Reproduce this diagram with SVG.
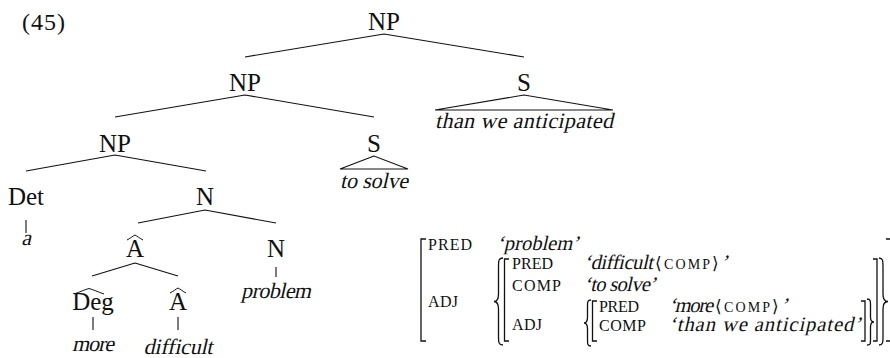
<svg xmlns="http://www.w3.org/2000/svg" width="890" height="358" viewBox="0 0 890 358">
  <style>
    .lbl { font-family: "Liberation Serif", serif; font-size: 25px; text-anchor: middle; fill: #111; }
    /* slanted serif for the words; the slant is applied with skewX */
    .leaf { font-family: "Liberation Serif", serif; font-size: 22px; text-anchor: middle; fill: #111; }
    .edge { stroke: #111; stroke-width: 1.1; fill: none; }
    .hat { stroke: #111; stroke-width: 1; fill: none; }
    .feat { font-family: "Liberation Serif", serif; font-size: 16px; fill: #111; }
    .val { font-family: "Liberation Serif", serif; font-size: 20.5px; fill: #111; }
    .sc { font-family: "Liberation Serif", serif; font-size: 14px; fill: #111; }
    .ang { font-family: "DejaVu Serif", serif; font-size: 17px; fill: #111; }
    .brk { stroke: #111; stroke-width: 1.3; fill: none; }
  </style>

  <!-- example number -->
  <text x="22" y="30" font-family="Liberation Serif, serif" font-size="24" fill="#111" textLength="43">(45)</text>

  <!-- tree connectors -->
  <g id="connectors" class="edge">
    <path d="M384,34 L245,57 M384,34 L524,57"/>
    <path d="M245,95 L115,117 M245,95 L374,117"/>
    <path d="M524,95 L435,110 L613,110 Z"/>
    <path d="M115,155 L26,171 M115,155 L206,171"/>
    <path d="M374,156 L340,169 L408,169 Z"/>
    <path d="M26,220 V233"/>
    <path d="M205,210 L138,223 M205,210 L276,223"/>
    <path d="M135,263 L92,276 M135,263 L178,276"/>
    <path d="M276,267 V277"/>
    <path d="M93,317 V330"/>
    <path d="M178,317 V330"/>
  </g>

  <!-- tree nodes -->
  <g id="np-root"><text class="lbl" x="384" y="30">NP</text></g>
  <g id="np-mid"><text class="lbl" x="245" y="91">NP</text></g>
  <g id="s-than"><text class="lbl" x="524" y="91">S</text>
    <text class="leaf" transform="translate(524,128) skewX(-13)" textLength="178">than we anticipated</text></g>
  <g id="np-low"><text class="lbl" x="115" y="152">NP</text></g>
  <g id="s-solve"><text class="lbl" x="374" y="152">S</text>
    <text class="leaf" transform="translate(374,188) skewX(-13)" textLength="68">to solve</text></g>
  <g id="det"><text class="lbl" x="26" y="205">Det</text>
    <text class="leaf" transform="translate(26,245) skewX(-13)">a</text></g>
  <g id="n-top"><text class="lbl" x="205" y="205">N</text></g>
  <g id="a-hat"><text class="lbl" x="135" y="257">A</text>
    <path class="hat" d="M127,240 C130,238.5 133,236 135,235 C137,236 140,238.5 143,240"/></g>
  <g id="n-leaf"><text class="lbl" x="276" y="257">N</text>
    <text class="leaf" transform="translate(276,298) skewX(-13)" textLength="70">problem</text></g>
  <g id="deg"><text class="lbl" x="93" y="310">Deg</text>
    <path class="hat" d="M74,294 C80,292 85,289.5 89,288.5 C93,289.5 98,292 104,294"/>
    <text class="leaf" transform="translate(93,351) skewX(-13)" textLength="42">more</text></g>
  <g id="a-hat2"><text class="lbl" x="178" y="310">A</text>
    <path class="hat" d="M170,293 C173,291.5 176,289 178,288 C180,289 183,291.5 186,293"/>
    <text class="leaf" transform="translate(178,354) skewX(-13)" textLength="69">difficult</text></g>

  <!-- f-structure -->
  <g id="fstructure">
    <!-- brackets and braces -->
    <path class="brk" d="M426,239 H421 V341 H426"/>
    <path class="brk" d="M503,258 C498.5,258 498.5,261 498.5,266 V294 C498.5,299 497,301.5 494,301.5 C497,301.5 498.5,304 498.5,309 V337 C498.5,342 498.5,345 503,345"/>
    <path class="brk" d="M509,259 H504.5 V341 H509"/>
    <path class="brk" d="M591,300 C587.5,300 587.5,302 587.5,306 V317 C587.5,320.5 586.5,323 584,323 C586.5,323 587.5,325.5 587.5,329 V340 C587.5,344 587.5,346 591,346"/>
    <path class="brk" d="M597,301 H592.5 V341 H597"/>
    <path class="brk" d="M861,301 H865 V341 H861"/>
    <path class="brk" d="M867,299 C870.5,299 870.5,301 870.5,305 V317 C870.5,320 871.5,322 874,322 C871.5,322 870.5,324 870.5,327 V340 C870.5,344 870.5,345 867,345"/>
    <path class="brk" d="M873,259 H877 V341 H873"/>
    <path class="brk" d="M879,258 C883,258 883,261 883,266 V294 C883,299 884.5,301.5 888,301.5 C884.5,301.5 883,304 883,309 V337 C883,342 883,345 879,345"/>
    <path class="brk" d="M886,239 H891 V341 H886"/>

    <!-- attributes -->
    <text class="feat" x="428" y="250" textLength="44">PRED</text>
    <text class="feat" x="428" y="307" textLength="30">ADJ</text>
    <text class="feat" x="512" y="269" textLength="41">PRED</text>
    <text class="feat" x="512" y="291" textLength="49">COMP</text>
    <text class="feat" x="512" y="330" textLength="30">ADJ</text>
    <text class="feat" x="599" y="312" textLength="40">PRED</text>
    <text class="feat" x="599" y="331" textLength="47">COMP</text>

    <!-- values -->
    <text class="val" transform="translate(497,250) skewX(-13)" textLength="82">‘problem’</text>

    <text class="val" transform="translate(584,269) skewX(-13)" textLength="69">‘difficult</text>
    <text class="ang" x="655" y="269">⟨</text>
    <text class="sc" x="664" y="269" textLength="46">COMP</text>
    <text class="ang" x="712" y="269">⟩</text>
    <text class="val" transform="translate(721,269) skewX(-13)">’</text>

    <text class="val" transform="translate(584,291) skewX(-13)" textLength="72">‘to solve’</text>

    <text class="val" transform="translate(669,312) skewX(-13)" textLength="44">‘more</text>
    <text class="ang" x="715" y="312">⟨</text>
    <text class="sc" x="724" y="312" textLength="46">COMP</text>
    <text class="ang" x="772" y="312">⟩</text>
    <text class="val" transform="translate(781,312) skewX(-13)">’</text>

    <text class="val" transform="translate(669,331) skewX(-13)" textLength="192">‘than we anticipated’</text>
  </g>
</svg>
